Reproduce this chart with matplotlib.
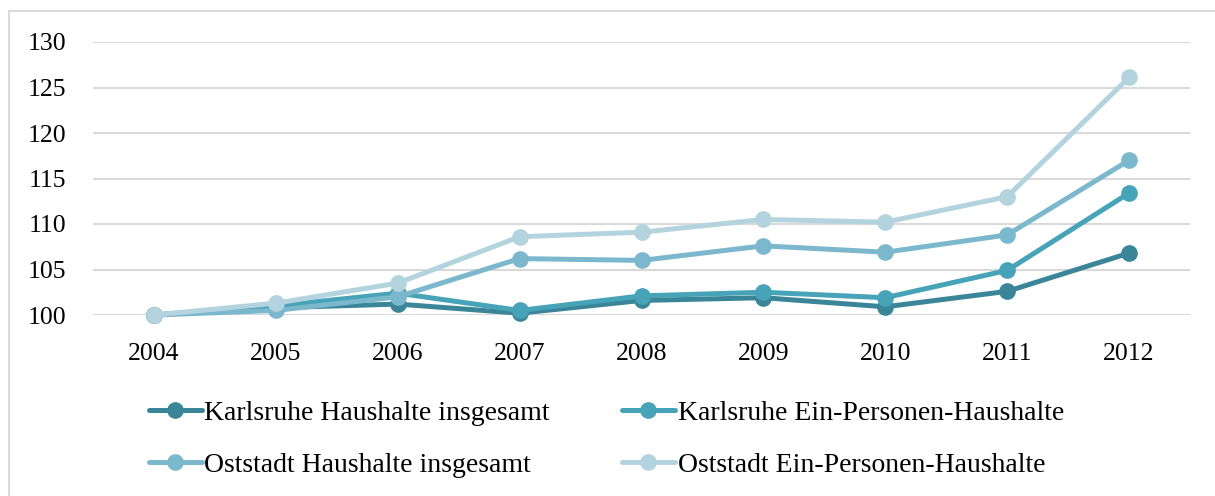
import matplotlib
matplotlib.use("Agg")
import matplotlib.pyplot as plt
from matplotlib.lines import Line2D

years = ["2004", "2005", "2006", "2007", "2008", "2009", "2010", "2011", "2012"]
karlsruhe_total = [100, 100.8, 101.2, 100.2, 101.6, 101.9, 100.9, 102.6, 106.8]
karlsruhe_single = [100, 101.0, 102.4, 100.5, 102.1, 102.5, 101.9, 104.9, 113.4]
oststadt_total = [100, 100.5, 102.0, 106.2, 106.0, 107.6, 106.9, 108.8, 117.0]
oststadt_single = [100, 101.3, 103.5, 108.6, 109.1, 110.5, 110.2, 113.0, 126.1]
labels = ["Karlsruhe Haushalte insgesamt", "Karlsruhe Ein-Personen-Haushalte",
          "Oststadt Haushalte insgesamt", "Oststadt Ein-Personen-Haushalte"]
yticks = [100, 105, 110, 115, 120, 125, 130]

colors = ["#3A8698", "#47A3B8", "#7CB8CD", "#B3D3DE"]
series = [karlsruhe_total, karlsruhe_single, oststadt_total, oststadt_single]

plt.rcParams['font.family'] = ['Liberation Serif', 'DejaVu Serif']

fig = plt.figure(figsize=(12.15, 4.96), dpi=100)
ax = fig.add_axes([93/1215, 1 - 315/496, (1190-93)/1215, (315-42)/496])

x = list(range(len(years)))
handles = []
for vals, c, lab in zip(series, colors, labels):
    h, = ax.plot(x, vals, color=c, lw=3.6, marker='o', ms=11, label=lab,
                 clip_on=False, solid_capstyle='round', zorder=3)
    handles.append(h)

ax.set_xlim(-0.5, len(years) - 0.5)
ax.set_ylim(100, 130)
ax.set_yticks(yticks)
ax.set_xticks(x)
ax.set_xticklabels(years)
ax.grid(axis='y', color='#D9D9D9', lw=1.5)
ax.set_axisbelow(True)
for s in ax.spines.values():
    s.set_visible(False)
ax.tick_params(axis='both', length=0, labelsize=18.5, colors='black')
ax.tick_params(axis='y', pad=19)
ax.tick_params(axis='x', pad=20)

order = [0, 2, 1, 3]
fig.legend([handles[i] for i in order], [labels[i] for i in order], ncol=2,
           frameon=False, prop={'size': 20}, loc='center', bbox_to_anchor=(0.499, 1 - 439/496),
           handlelength=1.9, handletextpad=0.1, columnspacing=2.6, labelspacing=0.95,
           borderpad=0)

# outer frame
fig.add_artist(Line2D([9/1215, 9/1215], [0, 1 - 11/496], transform=fig.transFigure,
                      color='#D9D9D9', lw=1.5))
fig.add_artist(Line2D([9/1215, 1], [1 - 11/496, 1 - 11/496], transform=fig.transFigure,
                      color='#D9D9D9', lw=1.5))

fig.savefig("out.png", dpi=100)
